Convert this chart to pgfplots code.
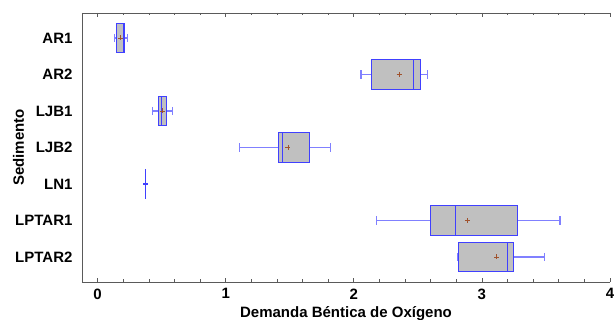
\documentclass[border=0pt]{standalone}
\usepackage{fontspec}
\setmainfont{Liberation Sans}
\usepackage{pgfplots}
\pgfplotsset{compat=1.18}
\usepgfplotslibrary{statistics}
\definecolor{boxblue}{RGB}{64,64,255}
\definecolor{whiskblue}{RGB}{128,128,255}
\definecolor{boxgray}{RGB}{192,192,192}
\definecolor{meanbrown}{RGB}{160,82,45}
\definecolor{axgray}{RGB}{90,90,90}
\begin{document}
\begin{tikzpicture}
\path[use as bounding box] (0,0) rectangle (614pt,320pt);
\begin{axis}[at={(82pt,38pt)}, anchor=south west, scale only axis,
  width=528pt, height=269pt,
  xmin=-0.122, xmax=4, ymin=0.315, ymax=7.685, y dir=reverse,
  axis x line=box, axis y line=left,
  axis line style={-, draw=axgray, line width=0.8pt},
  xtick={0,1,2,3,4}, minor x tick num=4, tick align=inside,
  major tick length=4pt, minor tick length=2.5pt,
  every tick/.style={draw=axgray, line width=0.7pt},
  ytick={1,2,3,4,5,6,7},
  yticklabels={AR1,AR2,LJB1,LJB2,LN1,LPTAR1,LPTAR2},
  y tick style={draw=none}, ytick pos=left,
  ticklabel style={font=\bfseries\fontsize{15}{17}\selectfont},
  yticklabel style={xshift=-6pt},
  xticklabel style={yshift=-3pt},
  /pgf/number format/assume math mode=true,
  xlabel={Demanda Béntica de Oxígeno}, ylabel={Sedimento},
  label style={font=\bfseries\fontsize{15}{17}\selectfont},
  xlabel style={yshift=0pt},
  ylabel style={at={(axis description cs:0,0.5)}, anchor=center, yshift=63.5pt},
  boxplot/draw direction=x,
  boxplot/box extend=0.8, boxplot/whisker extend=0.22,
  boxplot/every box/.style={draw=boxblue, fill=boxgray, line width=0.9pt},
  boxplot/every median/.style={draw=boxblue, line width=0.9pt},
  boxplot/every whisker/.style={draw=whiskblue, line width=1.3pt},
  boxplot/every average/.style={/tikz/mark=+, /tikz/mark size=2.5pt, /tikz/line width=0.8pt},
]
\addplot[color=meanbrown, boxplot prepared={draw position=1, lower whisker=0.13, lower quartile=0.144,
  median=0.20, upper quartile=0.206, upper whisker=0.232, average=0.18}] coordinates {};
\addplot[color=meanbrown, boxplot prepared={draw position=2, lower whisker=2.056, lower quartile=2.137,
  median=2.467, upper quartile=2.522, upper whisker=2.574, average=2.353}] coordinates {};
\addplot[color=meanbrown, boxplot prepared={draw position=3, lower whisker=0.427, lower quartile=0.474,
  median=0.50, upper quartile=0.536, upper whisker=0.583, average=0.508}] coordinates {};
\addplot[color=meanbrown, boxplot prepared={draw position=4, lower whisker=1.106, lower quartile=1.411,
  median=1.445, upper quartile=1.653, upper whisker=1.817, average=1.486}] coordinates {};
\addplot[color=boxblue, line width=1.6pt, boxplot/every box/.append style={line width=1.6pt},
  boxplot/every median/.append style={line width=1.6pt},
  boxplot prepared={draw position=5, lower whisker=0.375, lower quartile=0.375,
  median=0.375, upper quartile=0.375, upper whisker=0.375, average=0.375}] coordinates {};
\addplot[color=meanbrown, boxplot prepared={draw position=6, lower whisker=2.178, lower quartile=2.597,
  median=2.792, upper quartile=3.276, upper whisker=3.61, average=2.886}] coordinates {};
\addplot[color=meanbrown, boxplot prepared={draw position=7, lower whisker=2.808, lower quartile=2.819,
  median=3.201, upper quartile=3.25, upper whisker=3.487, average=3.115}] coordinates {};
\end{axis}
\end{tikzpicture}
\end{document}
